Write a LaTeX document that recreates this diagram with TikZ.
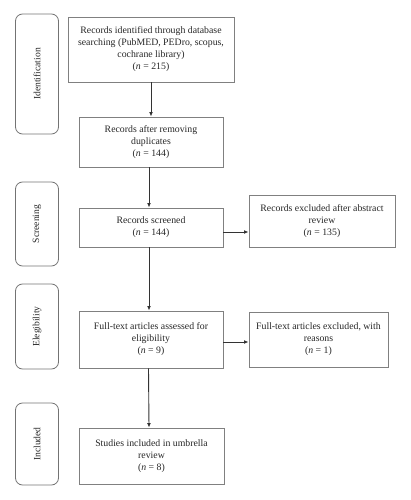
\documentclass[tikz,border=0pt]{standalone}
\usepackage{fontspec}
\setmainfont{Liberation Serif}
\usetikzlibrary{arrows.meta}

\begin{document}
\begin{tikzpicture}[x=1pt,y=1pt,
    box/.style={draw=black!50,line width=0.8pt,inner sep=0pt,align=center,
      font=\fontsize{9.8}{12}\selectfont,text=black!85},
    phase/.style={draw=black!55,line width=0.8pt,rounded corners=7pt,rotate=90,
      minimum height=43pt,inner sep=0pt,font=\fontsize{9.6}{12}\selectfont,text=black!85},
    arr/.style={-{Latex[length=4.5pt,width=3.8pt]},line width=0.9pt,draw=black!80}]
    \useasboundingbox (0,0) rectangle (410,-500);
    % phases on the left
    \node[phase,minimum width=120pt] (ident) at (37,-74) {Identification};
    \node[phase,minimum width=84pt] (screen) at (37,-224) {Screening};
    \node[phase,minimum width=85pt] (elig) at (37,-326.5) {Elegibility};
    \node[phase,minimum width=82pt] (incl) at (37,-444) {Included};
    % flow boxes
    \node[box,minimum width=166pt,minimum height=65pt] (found) at (151,-49.5)
      {Records identified through database\\searching (PubMED, PEDro, scopus,\\cochrane library)\\(\textit{n} = 215)};
    \node[box,minimum width=144pt,minimum height=50pt] (dups) at (151,-142)
      {Records after removing\\duplicates\\(\textit{n} = 144)};
    \node[box,minimum width=144pt,minimum height=39pt] (screened) at (151,-227.5)
      {Records screened\\(\textit{n} = 144)};
    \node[box,minimum width=146pt,minimum height=52pt] (abstr) at (322,-221)
      {Records excluded after abstract\\review\\(\textit{n} = 135)};
    \node[box,minimum width=144pt,minimum height=57pt] (fulltext) at (151,-339.5)
      {Full-text articles assessed for\\eligibility\\(\textit{n} = 9)};
    \node[box,minimum width=139pt,minimum height=55pt] (reasons) at (318.5,-339.5)
      {Full-text articles excluded, with\\reasons\\(\textit{n} = 1)};
    \node[box,minimum width=145pt,minimum height=56pt] (umbrella) at (151.5,-456)
      {Studies included in umbrella\\review\\(\textit{n} = 8)};
    % arrows
    \draw[arr] (found.south) -- (dups.north);
    \draw[arr] ([xshift=-2pt]dups.south) -- ([xshift=-2pt]screened.north);
    \draw[arr] ([xshift=-2pt]screened.south) -- ([xshift=-2pt]fulltext.north);
    \draw[arr] ([xshift=-2.5pt]fulltext.south) -- ([xshift=-2.5pt]umbrella.north);
    \draw[arr] ([yshift=-4.5pt]screened.east) -- ([yshift=-4.5pt]screened.east -| abstr.west);
    \draw[arr] ([yshift=-2.5pt]fulltext.east) -- ([yshift=-2.5pt]fulltext.east -| reasons.west);
\end{tikzpicture}
\end{document}
